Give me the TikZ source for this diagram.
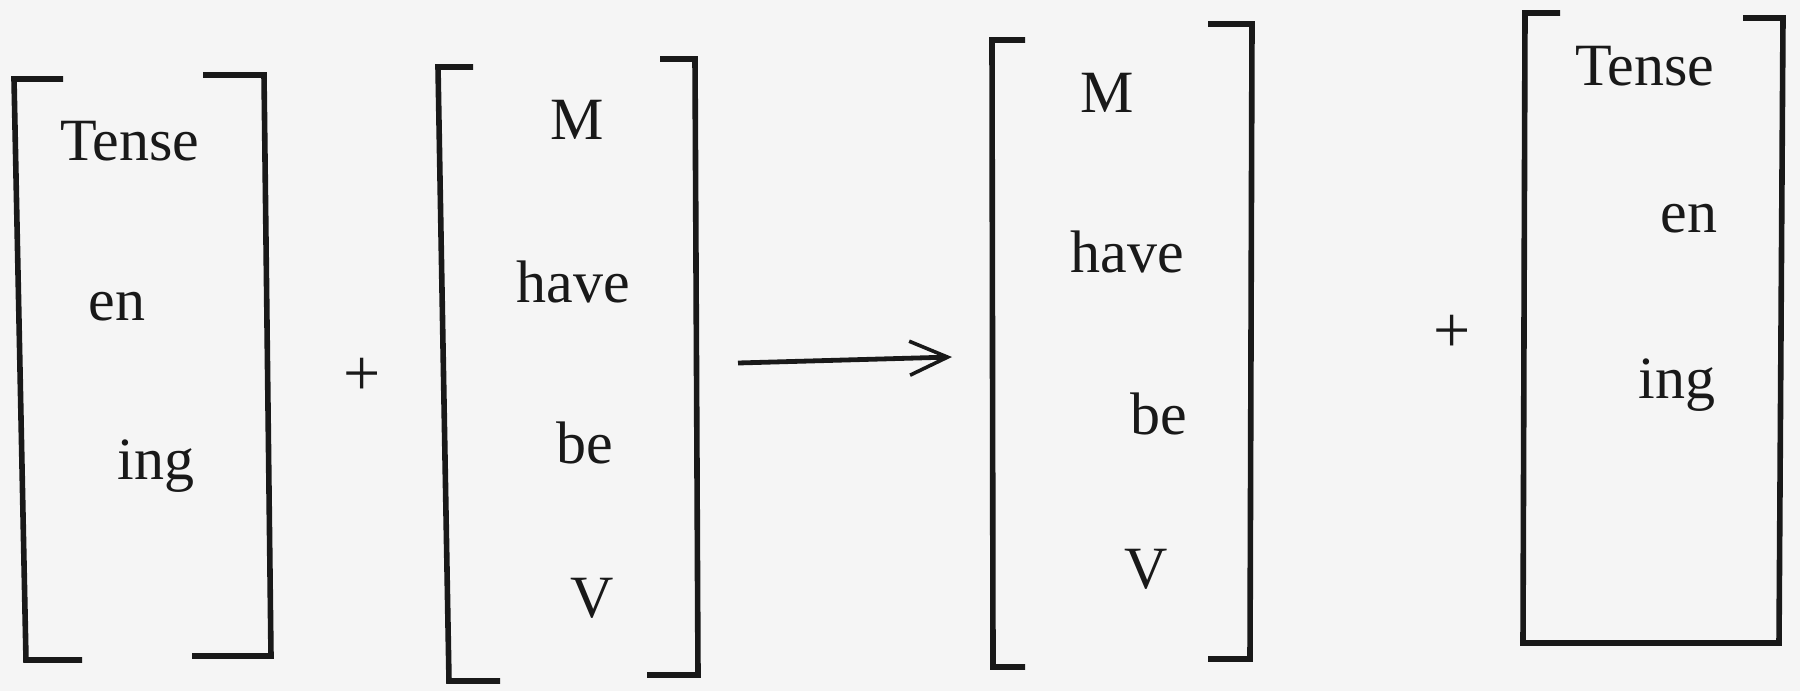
\documentclass[tikz,border=0pt]{standalone}
\usepackage{fontspec}
\setmainfont{Liberation Serif}
\usetikzlibrary{arrows.meta}
\definecolor{paper}{RGB}{245,245,245}
\definecolor{ink}{RGB}{25,25,25}
\tikzset{
  brk/.style={draw=ink, line width=2.8pt, line join=miter, line cap=butt},
  word/.style={anchor=base west, inner sep=0pt, text=ink, font=\fontsize{30}{30}\selectfont},
  plussign/.style={anchor=center, inner sep=0pt, text=ink, font=\fontsize{33}{33}\selectfont},
  conn/.style={draw=ink, line width=2.4pt, -{Straight Barb[length=19pt, width=17pt, line width=1.8pt]}}
}
\begin{document}
\begin{tikzpicture}[x=0.5pt, y=-0.5pt]
\fill[paper] (0,0) rectangle (1800,691);
\useasboundingbox (0,0) rectangle (1800,691);

% bracket group 1
\draw[brk] (63,79) -- (14,79) -- (26,660) -- (82,660);
\draw[brk] (203,75) -- (264,75) -- (271,656) -- (192,656);
\node[word] (t1) at (60,160) {Tense};
\node[word] (e1) at (88,320) {en};
\node[word] (i1) at (117,479) {ing};

\node[plussign] (p1) at (362,377) {+};

% bracket group 2
\draw[brk] (473,67) -- (438,67) -- (449,681) -- (500,681);
\draw[brk] (660,59) -- (695,59) -- (698,675) -- (647,675);
\node[word] (m2) at (550,139) {M};
\node[word] (h2) at (516,302) {have};
\node[word] (b2) at (556,463) {be};
\node[word] (v2) at (570,617) {V};

% arrow
\coordinate (aS) at (738,363);
\coordinate (aE) at (952,357);
\draw[conn] (aS) -- (aE);

% bracket group 3
\draw[brk] (1025,40) -- (992,40) -- (993,667) -- (1025,667);
\draw[brk] (1208,24) -- (1252,24) -- (1250,659) -- (1208,659);
\node[word] (m3) at (1080,112) {M};
\node[word] (h3) at (1070,272) {have};
\node[word] (b3) at (1130,434) {be};
\node[word] (v3) at (1124,588) {V};

\node[plussign] (p2) at (1452,334) {+};

% bracket group 4
\draw[brk] (1560,13) -- (1525,13) -- (1523,643) -- (1779,643) -- (1783,18) -- (1743,18);
\node[word] (t4) at (1575,85) {Tense};
\node[word] (e4) at (1660,232) {en};
\node[word] (i4) at (1638,398) {ing};
\end{tikzpicture}
\end{document}
